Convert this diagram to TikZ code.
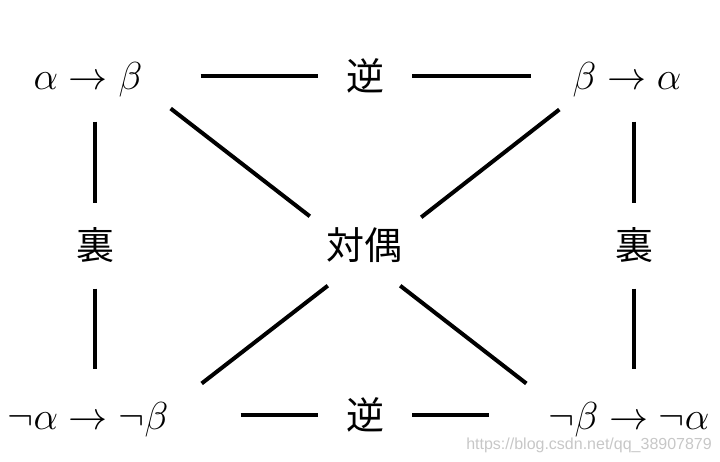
\RequirePackage{fix-cm}
\documentclass[tikz,border=0pt]{standalone}
\usepackage{fontspec}
\newfontfamily\cjkfont{Noto Sans CJK JP}
\newfontfamily\wmfont{Liberation Sans}
\usetikzlibrary{calc}

\begin{document}
\begin{tikzpicture}[
  x=1pt, y=1pt,
  prop/.style={inner sep=0pt, font=\fontsize{39}{47}\selectfont},
  rel/.style={inner sep=0pt, font=\cjkfont\fontsize{38}{46}\selectfont},
  ln/.style={line width=4pt, draw=black},
  wm/.style={inner sep=0pt, anchor=base east, text=black!22, font=\wmfont\fontsize{16}{19}\selectfont},
]
\useasboundingbox (0,0) rectangle (720,462);
% ---------- propositions ----------
\node[prop] (ab)  at (88,382)  {$\alpha\to\beta$};
\node[prop] (ba)  at (627,382) {$\beta\to\alpha$};
\node[prop] (nab) at (88,42)   {$\neg\alpha\to\neg\beta$};
\node[prop] (nba) at (629,42)  {$\neg\beta\to\neg\alpha$};
% ---------- relations ----------
\node[rel] (rtop) at (365,386) {逆};
\node[rel] (rbot) at (365,47)  {逆};
\node[rel] (lura) at (95,217)  {裏};
\node[rel] (rura) at (634,217) {裏};
\node[rel] (dual) at (364,217) {対偶};
\node[wm] (wmk) at (712,12) {https://blog.csdn.net/qq\_38907879};

% ---------- lines ----------
\draw[ln, shorten <=58pt, shorten >=28pt] (ab.east |- rtop) -- (rtop.west);
\draw[ln, shorten <=28pt, shorten >=41pt] (rtop.east) -- (ba.west |- rtop);
\draw[ln, shorten <=72pt, shorten >=28pt] (nab.east |- rbot) -- (rbot.west);
\draw[ln, shorten <=28pt, shorten >=59pt] (rbot.east) -- (nba.west |- rbot);
\draw[ln, shorten <=24pt, shorten >=24pt] (ab.south -| lura) -- (lura.north);
\draw[ln, shorten <=26pt, shorten >=33pt] (lura.south) -- (nab.north -| lura);
\draw[ln, shorten <=24pt, shorten >=24pt] (ba.south -| rura) -- (rura.north);
\draw[ln, shorten <=26pt, shorten >=33pt] (rura.south) -- (nba.north -| rura);
\draw[ln] ([shift={(28pt,-11pt)}]ab.south east) -- ([shift={(-16pt,11pt)}]dual.north west);
\draw[ln] ([shift={(-13pt,-12pt)}]ba.south west) -- ([shift={(19pt,10pt)}]dual.north east);
\draw[ln] ([shift={(33pt,19pt)}]nab.north east) -- ([shift={(2pt,-23pt)}]dual.south west);
\draw[ln] ([shift={(-22pt,19pt)}]nba.north west) -- ([shift={(-2pt,-23pt)}]dual.south east);
\end{tikzpicture}
\end{document}
